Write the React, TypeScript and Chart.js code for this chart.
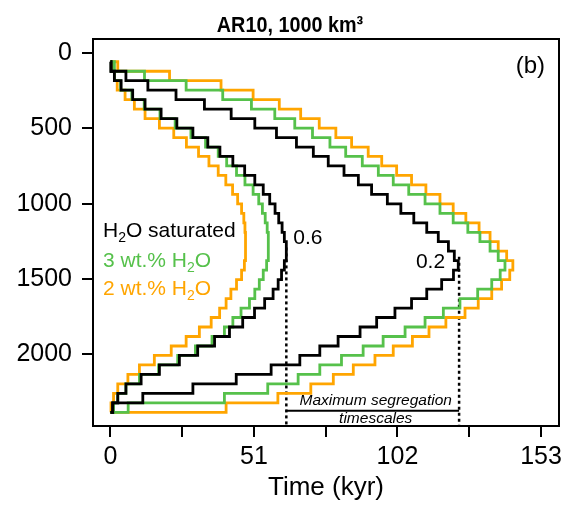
import React, { useEffect, useRef } from 'react';
import { Chart, registerables } from 'chart.js';

Chart.register(...registerables);

const FONT = "'Liberation Sans', Arial, Helvetica, sans-serif";

// depth levels (shared grid of the staircase curves)
const depthLevels = [58, 121, 183, 246, 309, 372, 435, 498, 561, 624, 686, 749, 812, 875, 938, 1001, 1064, 1127, 1190, 1252, 1315, 1378, 1441, 1504, 1567, 1630, 1693, 1755, 1818, 1881, 1944, 2007, 2070, 2133, 2196, 2258, 2321, 2384];

// time (kyr) of each step, H2O saturated
const satOuter = [0.2, 5.5, 13.3, 23.3, 33.4, 42.9, 51.3, 59.0, 66.1, 72.1, 77.4, 83.0, 88.1, 92.8, 98.4, 103.2, 107.8, 112.4, 116.5, 120.1, 122.2, 123.6, 121.9, 117.7, 112.4, 107.0, 101.1, 94.6, 88.7, 80.9, 74.4, 67.3, 57.1, 44.7, 29.3, 11.5, 0.8];
const satInner = [0.2, 1.4, 3.8, 7.9, 12.3, 18.0, 23.6, 29.3, 34.6, 38.9, 43.5, 47.7, 51.3, 54.3, 56.6, 58.5, 59.8, 61.0, 61.8, 62.5, 62.5, 61.8, 60.8, 59.6, 57.8, 54.8, 51.2, 47.0, 42.3, 37.0, 31.0, 24.5, 17.4, 10.9, 5.5, 2.6, 0.8];
// 3 wt.% H2O
const w3Outer = [1.4, 12.1, 26.9, 39.9, 50.1, 58.4, 65.5, 71.8, 78.0, 83.6, 89.5, 95.2, 100.5, 106.0, 111.8, 117.1, 121.8, 127.0, 131.3, 134.9, 137.8, 140.2, 138.5, 135.5, 130.5, 124.2, 118.3, 111.8, 104.7, 96.9, 89.8, 82.1, 74.4, 66.7, 55.9, 40.5, 6.3];
const w3Inner = [0.3, 1.4, 3.6, 7.6, 12.0, 17.6, 23.0, 28.6, 33.8, 38.3, 41.3, 44.8, 47.8, 50.7, 52.7, 54.0, 55.0, 55.7, 56.1, 56.1, 56.1, 55.5, 54.3, 52.9, 51.3, 49.4, 46.4, 43.5, 40.5, 36.1, 30.2, 23.9, 17.1, 10.3, 5.5, 2.6, 1.1];
// 2 wt.% H2O
const w2Outer = [2.6, 21.0, 39.3, 50.7, 60.0, 67.6, 74.2, 80.1, 85.7, 91.6, 96.4, 101.7, 107.0, 112.1, 117.1, 121.8, 126.3, 131.0, 134.9, 137.8, 140.8, 143.0, 141.9, 139.0, 135.5, 130.7, 126.0, 119.2, 113.2, 107.3, 100.5, 94.0, 86.3, 79.2, 71.2, 59.5, 41.1];
const w2Inner = [0.5, 1.4, 2.4, 5.2, 8.5, 12.3, 17.4, 22.5, 27.0, 31.3, 35.0, 38.3, 41.0, 43.4, 45.2, 46.6, 47.4, 47.8, 48.0, 48.0, 48.0, 47.6, 46.6, 44.8, 42.8, 41.1, 38.8, 35.8, 31.6, 26.9, 21.6, 15.6, 10.3, 6.2, 2.6, 1.1, 0.2];

// maximum segregation timescales
const maxSeg06 = 62.5;
const maxSeg02 = 123.9;
const dotStart06 = 1290;
const dotStart02 = 1352;
const segDepth = 2374;

const xTickValues = [0, 25.5, 51, 76.5, 102, 127.5, 153];
const xTickLabels = ['0', '', '51', '', '102', '', '153'];
const yTickValues = [0, 500, 1000, 1500, 2000];
const yTickLabels = ['0', '500', '1000', '1500', '2000'];

const titleText = 'AR10, 1000 km\u00B3';
const panelLabel = '(b)';
const legendRows = [
  { pre: 'H', post: 'O saturated', color: '#000000' },
  { pre: '3 wt.% H', post: 'O', color: '#56C14B' },
  { pre: '2 wt.% H', post: 'O', color: '#FFA500' },
];

const BLACK = '#000000';
const GREEN = '#56C14B';
const ORANGE = '#FFA500';

const X_MIN = -6.2;
const X_MAX = 159.4;
const Y_MIN = -93;
const Y_MAX = 2475;

const toPath = (times: number[]) => [
  { x: 0, y: depthLevels[0] },
  ...times.map((t, i) => ({ x: t, y: depthLevels[i + 1] })),
  { x: 0, y: depthLevels[depthLevels.length - 1] },
];

const stepSet = (data: number[], color: string) => ({
  data: toPath(data),
  showLine: true,
  stepped: true as const,
  borderColor: color,
  borderWidth: 2.8,
  pointRadius: 0,
  fill: false,
});

const annotPlugin = {
  id: 'annot',
  afterDraw(chart: any) {
    const { ctx, chartArea: ca, scales } = chart;
    const xs = scales.x;
    const ys = scales.y;
    ctx.save();
    ctx.strokeStyle = '#000';
    ctx.lineWidth = 2;
    ctx.strokeRect(ca.left, ca.top, ca.right - ca.left, ca.bottom - ca.top);

    ctx.fillStyle = '#000';
    ctx.textBaseline = 'alphabetic';
    ctx.font = `bold 22px ${FONT}`;
    ctx.textAlign = 'center';
    ctx.save();
    ctx.translate((ca.left + ca.right) / 2 - 36, 32);
    ctx.scale(0.9, 1);
    ctx.fillText(titleText, 0, 0);
    ctx.restore();

    ctx.font = `24px ${FONT}`;
    ctx.textAlign = 'right';
    ctx.fillText(panelLabel, ca.right - 14, ca.top + 34);

    // legend text with subscript 2
    ctx.textAlign = 'left';
    const baselines = [198, 228, 256];
    legendRows.forEach((row, i) => {
      const bx = ca.left + 10;
      const by = ca.top + baselines[i];
      ctx.fillStyle = row.color;
      ctx.font = `21px ${FONT}`;
      ctx.fillText(row.pre, bx, by);
      let w = ctx.measureText(row.pre).width;
      ctx.font = `14px ${FONT}`;
      ctx.fillText('2', bx + w, by + 5);
      w += ctx.measureText('2').width;
      ctx.font = `21px ${FONT}`;
      ctx.fillText(row.post, bx + w, by);
    });

    ctx.fillStyle = '#000';
    ctx.font = `21px ${FONT}`;
    ctx.textAlign = 'left';
    ctx.fillText('0.6', xs.getPixelForValue(maxSeg06) + 7, ys.getPixelForValue(1265));
    ctx.textAlign = 'right';
    ctx.fillText('0.2', xs.getPixelForValue(maxSeg02) - 14, ys.getPixelForValue(1425));

    const cx = (xs.getPixelForValue(maxSeg06) + xs.getPixelForValue(maxSeg02)) / 2 + 3;
    const sy = ys.getPixelForValue(segDepth);
    ctx.textAlign = 'center';
    ctx.font = `italic 15.5px ${FONT}`;
    ctx.fillText('Maximum segregation', cx, sy - 6);
    ctx.fillText('timescales', cx, sy + 12);
    ctx.restore();
  },
};

export default function App() {
  const ref = useRef<HTMLCanvasElement>(null);
  useEffect(() => {
    const chart = new Chart(ref.current as HTMLCanvasElement, {
      type: 'scatter',
      data: {
        datasets: [
          stepSet(satOuter, BLACK),
          stepSet(satInner, BLACK),
          stepSet(w3Outer, GREEN),
          stepSet(w3Inner, GREEN),
          stepSet(w2Outer, ORANGE),
          stepSet(w2Inner, ORANGE),
          {
            data: [{ x: maxSeg06, y: dotStart06 }, { x: maxSeg06, y: Y_MAX }],
            showLine: true, borderColor: BLACK, borderWidth: 2.5, borderDash: [3, 3], pointRadius: 0,
          },
          {
            data: [{ x: maxSeg02, y: dotStart02 }, { x: maxSeg02, y: Y_MAX }],
            showLine: true, borderColor: BLACK, borderWidth: 2.5, borderDash: [3, 3], pointRadius: 0,
          },
          {
            data: [{ x: maxSeg06, y: segDepth }, { x: maxSeg02, y: segDepth }],
            showLine: true, borderColor: BLACK, borderWidth: 2, pointRadius: 0,
          },
        ] as any,
      },
      options: {
        responsive: false,
        animation: false,
        devicePixelRatio: 1,
        layout: { padding: { top: 39, right: 16, left: 0, bottom: 0 } },
        plugins: { legend: { display: false }, tooltip: { enabled: false }, title: { display: false } },
        scales: {
          x: {
            type: 'linear',
            min: X_MIN,
            max: X_MAX,
            afterBuildTicks: (axis: any) => { axis.ticks = xTickValues.map((v) => ({ value: v })); },
            afterFit: (axis: any) => { axis.height = 88; axis.paddingLeft = 0; axis.paddingRight = 0; },
            ticks: {
              autoSkip: false,
              maxRotation: 0,
              padding: 5,
              color: '#000',
              font: { family: FONT, size: 25 },
              callback: (_v: any, i: number) => xTickLabels[i],
            },
            grid: { display: true, drawOnChartArea: false, drawTicks: true, tickLength: 11, color: '#000', lineWidth: 2 },
            border: { display: false },
            title: { display: true, text: 'Time (kyr)', color: '#000', font: { family: FONT, size: 26 }, padding: { top: 0, bottom: 11 } },
          },
          y: {
            type: 'linear',
            reverse: true,
            min: Y_MIN,
            max: Y_MAX,
            afterBuildTicks: (axis: any) => { axis.ticks = yTickValues.map((v) => ({ value: v })); },
            afterFit: (axis: any) => { axis.width = 93; axis.paddingTop = 0; axis.paddingBottom = 0; },
            ticks: {
              autoSkip: false,
              padding: 10,
              color: '#000',
              font: { family: FONT, size: 25 },
              callback: (_v: any, i: number) => yTickLabels[i],
            },
            grid: { display: true, drawOnChartArea: false, drawTicks: true, tickLength: 11, color: '#000', lineWidth: 2 },
            border: { display: false },
          },
        },
      } as any,
      plugins: [annotPlugin],
    });
    return () => chart.destroy();
  }, []);
  return (
    <div style={{ position: 'absolute', left: 0, top: 0, width: 575, height: 514, background: '#fff' }}>
      <canvas ref={ref} width={575} height={514} style={{ width: 575, height: 514, display: 'block' }} />
    </div>
  );
}
